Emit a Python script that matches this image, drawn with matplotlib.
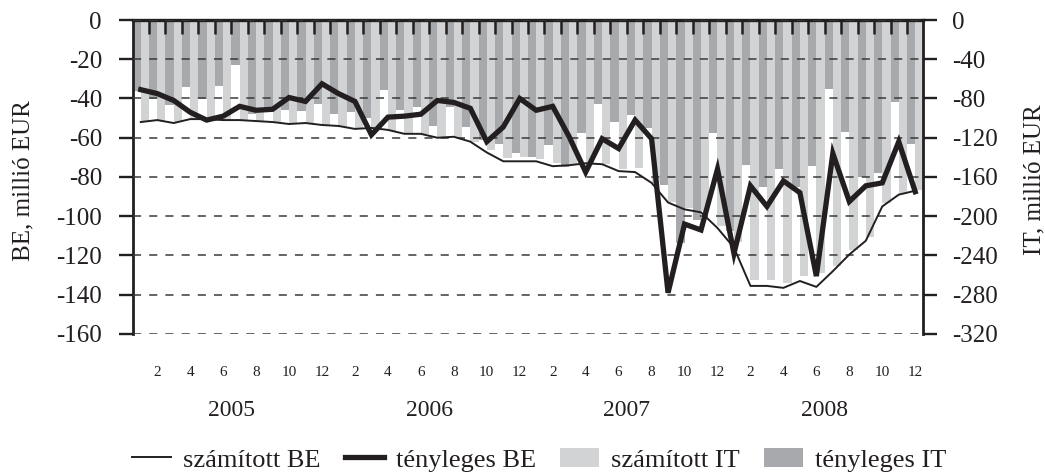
import numpy as np
import matplotlib
matplotlib.use("Agg")
import matplotlib.pyplot as plt
from matplotlib.lines import Line2D
from matplotlib.patches import Patch

plt.rcParams['font.family'] = ['Liberation Serif', 'DejaVu Serif']
plt.rcParams['axes.unicode_minus'] = False

# adatok: 2005.01 - 2008.12, havi
evek = ['2005', '2006', '2007', '2008']
honap_cimkek = ['2', '4', '6', '8', '10', '12']

# számított BE (vékony vonal), millió EUR
szamitott_be = [-52, -51, -52.5, -50.5, -50.5, -51, -51, -51.5, -52, -53, -52.5, -53.5,
                -54, -55.5, -55, -56, -58, -58, -60, -59.5, -62, -67.5, -72, -72,
                -72, -74.5, -74, -73, -73.5, -77, -77.5, -83, -93, -96.5, -98, -106,
                -116, -135.5, -135.5, -136.5, -133, -136, -128, -119.5, -112.5, -95, -89, -87]

# tényleges BE (vastag vonal)
tenyleges_be = [-35.5, -37.5, -41, -47, -51, -49, -44, -46, -45.5, -39.5, -41.5, -32.5,
                -37.5, -41.5, -58.5, -49.5, -49, -48, -41, -42, -45, -62, -54.5, -40,
                -46, -44, -59.5, -77.5, -60.5, -65.5, -51, -60.5, -139, -104, -107, -76,
                -119, -84.5, -95, -82, -88, -130.5, -68, -92.5, -84.5, -83, -62, -87.5]

# számított IT (világos oszlop)
szamitott_it = [-104, -103, -104, -102, -103, -102, -103, -104, -105, -106, -106, -107,
                -109, -110, -111, -113, -115, -116, -119, -120, -124, -132, -141, -140,
                -142, -146, -147, -146, -147, -152, -151, -166, -185, -192, -195, -210,
                -226, -265, -265, -268, -261, -258, -251, -234, -221, -187, -177, -173]

# tényleges IT (sötét oszlop)
tenyleges_it = [-72, -81, -87, -68, -81, -67, -46, -96, -94, -92, -93, -86,
                -96, -94, -100, -71, -92, -89, -108, -89, -109, -122, -126, -136,
                -140, -127, -150, -115, -86, -104, -97, -110, -168, -227, -204, -115,
                -215, -148, -170, -152, -170, -149, -70, -114, -160, -156, -84, -126]

fekete = '#231f20'
vilagos = '#d1d3d4'
sotet = '#a7a9ac'

x = np.arange(len(szamitott_be))

fig = plt.figure(figsize=(10.45, 4.74), dpi=100)
ax = fig.add_axes([0.1268, 0.2954, 0.8837 - 0.1268, 0.9578 - 0.2954])
ax2 = ax.twinx()

# oszlopok a jobb tengelyen
ax2.bar(x - 0.25, tenyleges_it, width=0.5, color=sotet, linewidth=0)
ax2.bar(x + 0.25, szamitott_it, width=0.5, color=vilagos, linewidth=0)
ax2.set_ylim(-320, 0)
ax2.set_yticks(np.arange(-320, 1, 40))
ax2.tick_params(axis='y', direction='out', length=10, width=1.7, pad=10.5,
                labelsize=18, colors=fekete)
for s in ax2.spines.values():
    s.set_visible(False)

# bal tengely kerül felülre
ax.set_zorder(ax2.get_zorder() + 1)
ax.patch.set_visible(False)

ax.plot(x, szamitott_be, color=fekete, lw=1.4, zorder=3)
ax.plot(x, tenyleges_be, color=fekete, lw=3.8, zorder=4, solid_joinstyle='miter')

ax.set_xlim(-0.5, 47.5)
ax.set_ylim(-160, 0)
ax.set_yticks(np.arange(-160, 1, 20))
ax.yaxis.grid(True, color='#3a3a3a', lw=1.1, linestyle=(0, (5.3, 5.3)))
ax.set_axisbelow(False)
ax.tick_params(axis='y', direction='out', length=10, width=1.7, pad=12,
               labelsize=18, colors=fekete)

# x tengely: hónaphatárok felül befelé, hónapcímkék alul
ax.set_xticks(np.arange(0.5, 47, 1), minor=True)
ax.tick_params(axis='x', which='minor', top=True, bottom=False, direction='in',
               length=10, width=1.8, color=fekete)
paros = [i for i in x if (i % 12) % 2 == 1]
ax.set_xticks(paros)
ax.set_xticklabels(honap_cimkek * 4)
ax.tick_params(axis='x', which='major', length=0, pad=23, labelsize=11, colors=fekete)

for k, ev in enumerate(evek):
    ax.text(12 * k + 5.5, -0.245, ev, transform=ax.get_xaxis_transform(),
            ha='center', va='center', fontsize=17, color=fekete)

ax.spines['bottom'].set_visible(False)
ax.spines['top'].set_linewidth(2.4)
ax.spines['left'].set_linewidth(2.0)
ax.spines['right'].set_linewidth(2.0)
for s in ax.spines.values():
    s.set_color(fekete)

fig.text(23 / 1045, 0.62, 'BE, millió EUR', rotation=90, ha='center', va='center',
         fontsize=18, color=fekete)
fig.text(1034 / 1045, 0.62, 'IT, millió EUR', rotation=90, ha='center', va='center',
         fontsize=18, color=fekete)

handles = [Line2D([], [], color=fekete, lw=1.4),
           Line2D([], [], color=fekete, lw=3.8),
           Patch(facecolor=vilagos, edgecolor='none'),
           Patch(facecolor=sotet, edgecolor='none')]
fig.legend(handles, ['számított BE', 'tényleges BE', 'számított IT', 'tényleges IT'],
           loc='center', bbox_to_anchor=(0.516, 0.03), ncol=4, frameon=False,
           fontsize=19, handlelength=1.5, handletextpad=0.45, columnspacing=0.9,
           labelcolor=fekete)

fig.savefig('out.png', dpi=100)
